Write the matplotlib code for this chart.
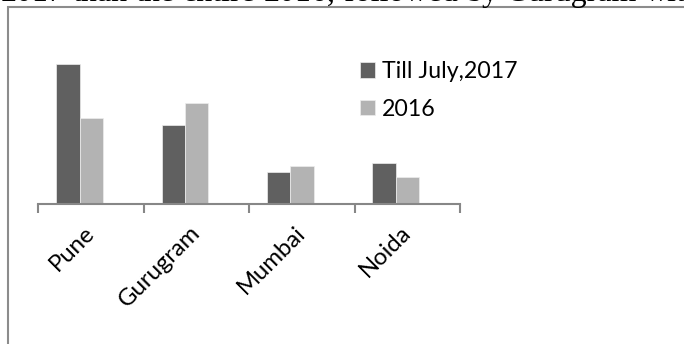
import matplotlib
matplotlib.use("Agg")
import matplotlib.pyplot as plt
from matplotlib.patches import Rectangle
import numpy as np

# Office space absorption by city (relative units)
cities = ["Pune", "Gurugram", "Mumbai", "Noida"]
till_july_2017 = [14.0, 7.9, 3.2, 4.1]
year_2016 = [8.6, 10.1, 3.8, 2.7]
series_labels = ["Till July,2017", "2016"]
caption = "2017 than the entire 2016, followed by Gurugram with"

DARK = "#606060"
LIGHT = "#b3b3b3"
AXIS = "#878787"

W, H = 684, 344
fig = plt.figure(figsize=(W / 100, H / 100), dpi=100)


def px_x(x):
    return x / W


def px_y(y):
    return 1 - y / H


# Caption line of the surrounding document, cut off at the top edge;
# set word by word with the font's own space width
renderer = fig.canvas.get_renderer()
cap_font = dict(family="Liberation Serif", fontsize=23, va="baseline",
                ha="left", color="black")
probe_a = fig.text(0, 0, "a a", **cap_font)
probe_b = fig.text(0, 0, "aa", **cap_font)
space_w = (probe_a.get_window_extent(renderer).width
           - probe_b.get_window_extent(renderer).width)
probe_a.remove()
probe_b.remove()
xpos = 1.0
for wd in caption.split():
    t = fig.text(px_x(xpos), px_y(0.8), wd, **cap_font)
    xpos += t.get_window_extent(renderer).width + space_w

# Chart frame
fig.patches.append(Rectangle((px_x(8.3), px_y(400)), px_x(800), (400 - 7.3) / H,
                             transform=fig.transFigure, fill=False,
                             edgecolor="#8c8c8c", linewidth=1.5))

ax_left, ax_right = 38.3, 460.0
ax_base, ax_top = 203.7, 23.7
ax = fig.add_axes([px_x(ax_left), px_y(ax_base), (ax_right - ax_left) / W,
                   (ax_base - ax_top) / H])

shift = 0.109
x = np.arange(len(cities))
w = 0.221
b1 = ax.bar(x - w / 2, till_july_2017, w, color=DARK, edgecolor="#ededed",
            linewidth=0.5, label=series_labels[0], zorder=2)
b2 = ax.bar(x + w / 2, year_2016, w, color=LIGHT, edgecolor="#ededed",
            linewidth=0.5, label=series_labels[1], zorder=2)

ax.set_xlim(-0.5 + shift, len(cities) - 0.5 + shift)
ax.set_ylim(0, 18.0)

for s in ["left", "right", "top"]:
    ax.spines[s].set_visible(False)
ax.spines["bottom"].set_color(AXIS)
ax.spines["bottom"].set_linewidth(1.5)
ax.spines["bottom"].set_zorder(3)

bounds = np.arange(len(cities) + 1) - 0.5 + shift
ax.set_xticks(bounds)
ax.set_xticklabels([])
ax.tick_params(axis="x", length=6.5, width=1.5, color=AXIS, direction="out")
ax.set_yticks([])

ax_h = ax_base - ax_top
for i, name in enumerate(cities):
    ax.text(i + shift + 0.005, -25.5 / ax_h, name,
            transform=ax.get_xaxis_transform(), rotation=45,
            rotation_mode="anchor", ha="right", va="center",
            family="Lato", fontsize=17.2, color="black")

leg = ax.legend(handles=[b1, b2], labels=series_labels, loc="upper left",
                bbox_to_anchor=(px_x(360), px_y(61)),
                bbox_transform=fig.transFigure, frameon=False,
                prop=dict(family="Lato", size=16.7), handlelength=0.64,
                handleheight=0.64, handletextpad=0.32, labelspacing=0.72,
                borderpad=0, borderaxespad=0)

fig.savefig("out.png", dpi=100)
